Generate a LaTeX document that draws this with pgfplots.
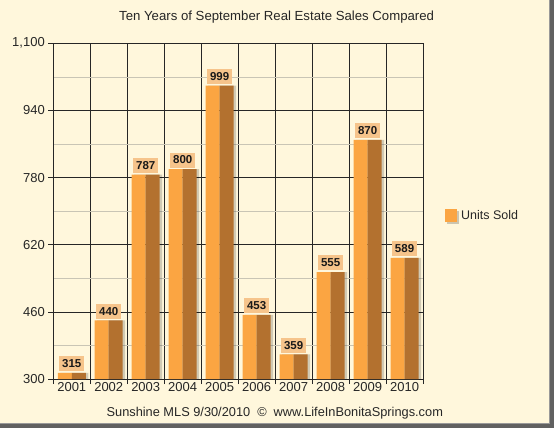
\documentclass[border=0pt]{standalone}
\usepackage{pgfplots}
\pgfplotsset{compat=1.18}
\usepackage{pgfplotstable}
\usepackage{fontspec}
\setmainfont{Liberation Sans}

\definecolor{panel}{HTML}{FFF7DC}
\definecolor{barlight}{HTML}{FBA542}
\definecolor{bardark}{HTML}{B3712F}
\definecolor{labelfill}{HTML}{F6C48B}
\definecolor{minorgrid}{HTML}{C9C5B5}

% September unit sales, 2001--2010 (x = 0 ... 9)
\pgfplotstableread{
x units
0 315
1 440
2 787
3 800
4 999
5 453
6 359
7 555
8 870
9 589
}\sales

\begin{document}
\begin{tikzpicture}[x=1pt,y=1pt]
  % panel with drop shadow
  \fill[black!62] (0,0) rectangle (554,-428);
  \fill[panel] (0,0) rectangle (549,-423);
  \draw[black!40, line width=0.6pt] (549,0) -- (549,-423) -- (0,-423);

  \begin{axis}[
    at={(53pt,-379pt)}, anchor=south west,
    scale only axis, width=370pt, height=336pt,
    xmin=-0.5, xmax=9.5, ymin=300, ymax=1100,
    ybar, bar width=14pt,
    ytick={300,460,...,1100},
    minor ytick={380,540,...,1020},
    ymajorgrids, yminorgrids,
    xtick={-0.5,0.5,...,9.5}, xticklabels={},
    xmajorgrids,
    extra x ticks={0,1,...,9},
    extra x tick labels={2001,2002,2003,2004,2005,2006,2007,2008,2009,2010},
    extra x tick style={grid=none, major tick length=0pt},
    major grid style={black!85, line width=0.8pt},
    minor grid style={minorgrid, line width=0.6pt},
    tick align=outside, tick pos=left,
    major tick length=5pt, minor tick length=0pt,
    axis line style={black!85, line width=0.8pt},
    tick style={black!85, line width=0.8pt},
    ticklabel style={font=\fontsize{13}{15}\selectfont, text=black!85},
    /pgf/number format/assume math mode=true,
    every axis title shift=0pt,
    title={Ten Years of September Real Estate Sales Compared},
    title style={at={(0.604,1.077)}, anchor=center,
      font=\fontsize{13.2}{15}\selectfont, text=black!85},
    xlabel={Sunshine MLS 9/30/2010\hspace{7pt}©\hspace{7pt}www.LifeInBonitaSprings.com},
    xlabel style={at={(0.599,-0.102)}, anchor=center,
      font=\fontsize{12.8}{14}\selectfont, text=black!85},
    legend style={at={(1.051,0.485)}, anchor=west, draw=none, fill=none,
      font=\fontsize{12.5}{14}\selectfont, text=black!85},
  ]
    % soft shadow behind each bar
    \addplot[fill=black, fill opacity=0.18, draw=none,
      bar width=28pt, bar shift=2.5pt, forget plot] table[x=x, y=units] {\sales};
    % lit and shaded halves of each bar
    \addplot[fill=barlight, draw=none, bar shift=-7pt,
      legend image code/.code={
        \fill[black, opacity=0.2] (2pt,-8pt) rectangle (14pt,5pt);
        \fill[barlight] (0pt,-6.5pt) rectangle (12pt,6.5pt);}]
      table[x=x, y=units] {\sales};
    \addlegendentry{Units Sold}
    \addplot[fill=bardark, draw=none, bar shift=7pt, forget plot]
      table[x=x, y=units] {\sales};
    % value labels
    \addplot[draw=none, fill=none, bar shift=0pt, bar width=28pt, forget plot,
      nodes near coords,
      nodes near coords style={fill=labelfill, text=black!90,
        font=\bfseries\fontsize{11.5}{12}\selectfont,
        inner xsep=3pt, inner ysep=0pt, minimum height=15pt,
        anchor=south, yshift=1.5pt}]
      table[x=x, y=units] {\sales};
  \end{axis}
\end{tikzpicture}
\end{document}
